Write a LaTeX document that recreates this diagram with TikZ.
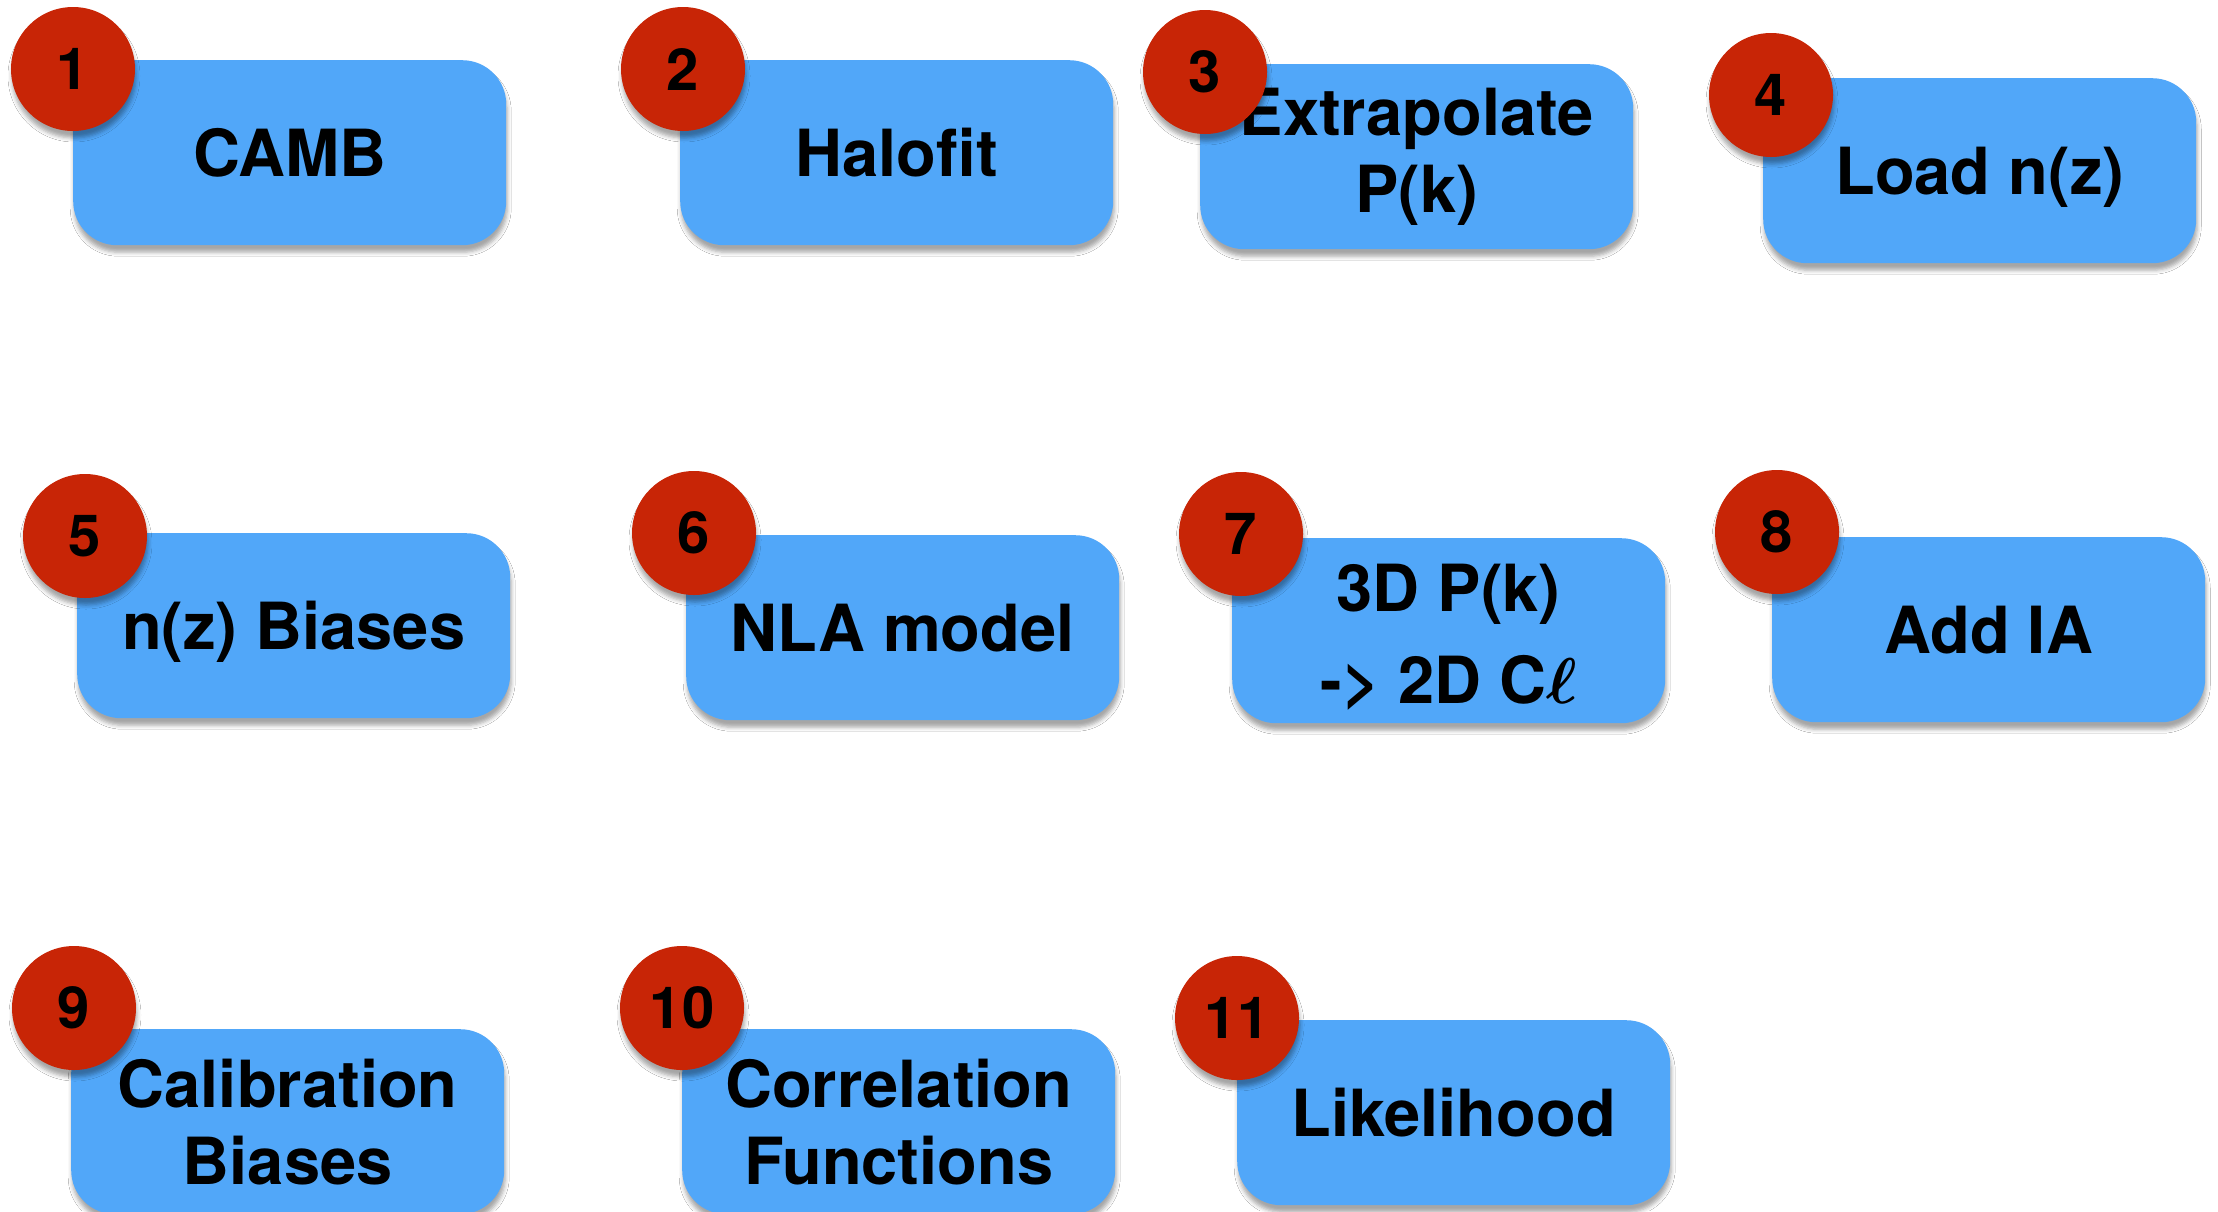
\documentclass[tikz,border=0pt]{standalone}
\usepackage{fontspec}
\usepackage{amsmath}
\setmainfont{TeX Gyre Heros}
\usetikzlibrary{shadows.blur}
\definecolor{boxblue}{HTML}{51A7F9}
\definecolor{badgered}{HTML}{C82506}
\newcommand{\bigell}{\scalebox{6.5}{\fontsize{10bp}{12bp}\selectfont$\boldsymbol{\ell}$}}
\begin{document}
\begin{tikzpicture}[x=1bp,y=-1bp,
  softshadow/.style={blur shadow={shadow xshift=1bp, shadow yshift=-7bp, shadow blur radius=4bp, shadow opacity=35}},
  stepbox/.style={fill=boxblue, rounded corners=44bp, minimum width=433bp, minimum height=185bp,
    anchor=north west, align=center, inner sep=0pt, text=black,
    font=\fontsize{65bp}{77bp}\selectfont\bfseries, softshadow},
  oneline/.style={text height=47bp, text depth=0pt},
  badge/.style={circle, fill=badgered, minimum size=124bp, inner sep=0pt, text=black,
    font=\fontsize{58bp}{58bp}\selectfont\bfseries, softshadow}]
\fill[white] (0,0) rectangle (2218,1211);
\useasboundingbox (0,0) rectangle (2218,1211);

% row 1
\node[stepbox, oneline] (b1) at (73,60) {CAMB};
\node[badge] (n1) at (73,69) {1};
\node[stepbox, oneline] (b2) at (680,60) {Halofit};
\node[badge] (n2) at (683,69) {2};
\node[stepbox] (b3) at (1200,64) {Extrapolate\\P(k)};
\node[badge] (n3) at (1205,72) {3};
\node[stepbox, oneline] (b4) at (1763,78) {Load n(z)};
\node[badge] (n4) at (1771,95) {4};

% row 2
\node[stepbox, oneline] (b5) at (77,533) {n(z) Biases};
\node[badge] (n5) at (85,536) {5};
\node[stepbox, oneline] (b6) at (686,535) {NLA model};
\node[badge] (n6) at (694,533) {6};
\node[stepbox, text height=150bp, text depth=4bp] (b7) at (1232,538) {3D P(k)\\[15bp]-> 2D C\bigell};
\node[badge] (n7) at (1241,534) {7};
\node[stepbox, oneline] (b8) at (1772,537) {Add IA};
\node[badge] (n8) at (1777,532) {8};

% row 3
\node[stepbox] (b9) at (71,1029) {Calibration\\Biases};
\node[badge] (n9) at (74,1008) {9};
\node[stepbox] (b10) at (682,1029) {Correlation\\Functions};
\node[badge] (n10) at (682,1008) {10};
\node[stepbox, oneline] (b11) at (1237,1020) {Likelihood};
\node[badge] (n11) at (1237,1018) {11};
\end{tikzpicture}
\end{document}
